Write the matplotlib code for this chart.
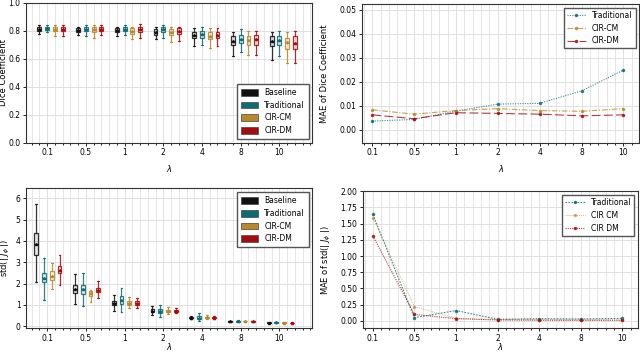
import numpy as np
import matplotlib.pyplot as plt
from matplotlib.patches import Patch
from matplotlib.ticker import MultipleLocator
from matplotlib.colors import to_rgba

lambdas = ['0.1', '0.5', '1', '2', '4', '8', '10']
methods = ['Baseline', 'Traditional', 'CIR-CM', 'CIR-DM']
colors = ['#111111', '#0d6b74', '#b8892c', '#a30d0d']

# box stats per lambda: [whisker low, q1, median, q3, whisker high]
dice_baseline = [[0.78, 0.80, 0.815, 0.83, 0.84], [0.77, 0.79, 0.805, 0.82, 0.83],
                 [0.76, 0.79, 0.805, 0.82, 0.83], [0.74, 0.77, 0.79, 0.81, 0.83],
                 [0.69, 0.75, 0.77, 0.79, 0.82], [0.62, 0.70, 0.73, 0.76, 0.79],
                 [0.59, 0.69, 0.73, 0.76, 0.79]]
dice_traditional = [[0.79, 0.805, 0.82, 0.83, 0.84], [0.76, 0.80, 0.815, 0.83, 0.84],
                    [0.77, 0.80, 0.815, 0.83, 0.84], [0.75, 0.79, 0.81, 0.83, 0.84],
                    [0.70, 0.75, 0.78, 0.80, 0.83], [0.65, 0.71, 0.74, 0.77, 0.81],
                    [0.62, 0.70, 0.735, 0.76, 0.80]]
dice_cir_cm = [[0.76, 0.80, 0.815, 0.83, 0.84], [0.75, 0.79, 0.81, 0.83, 0.84],
               [0.74, 0.78, 0.80, 0.82, 0.83], [0.72, 0.77, 0.79, 0.81, 0.83],
               [0.68, 0.74, 0.765, 0.79, 0.82], [0.63, 0.70, 0.735, 0.76, 0.80],
               [0.57, 0.67, 0.72, 0.75, 0.79]]
dice_cir_dm = [[0.76, 0.80, 0.815, 0.83, 0.84], [0.77, 0.80, 0.815, 0.83, 0.84],
               [0.75, 0.79, 0.81, 0.83, 0.85], [0.73, 0.78, 0.80, 0.82, 0.83],
               [0.69, 0.75, 0.77, 0.79, 0.82], [0.63, 0.70, 0.74, 0.77, 0.80],
               [0.57, 0.67, 0.71, 0.76, 0.80]]

std_baseline = [[2.05, 3.35, 3.85, 4.35, 5.75], [1.05, 1.55, 1.75, 1.95, 2.45],
                [0.70, 1.00, 1.10, 1.20, 1.45], [0.50, 0.65, 0.72, 0.80, 0.95],
                [0.33, 0.36, 0.40, 0.43, 0.47], [0.19, 0.21, 0.22, 0.23, 0.25],
                [0.14, 0.16, 0.17, 0.18, 0.19]]
std_traditional = [[1.25, 2.05, 2.25, 2.50, 3.20], [0.95, 1.50, 1.75, 1.95, 2.50],
                   [0.65, 1.05, 1.25, 1.40, 1.80], [0.45, 0.60, 0.70, 0.80, 1.00],
                   [0.25, 0.35, 0.40, 0.47, 0.60], [0.18, 0.21, 0.24, 0.26, 0.30],
                   [0.15, 0.17, 0.18, 0.19, 0.21]]
std_cir_cm = [[1.75, 2.15, 2.35, 2.60, 2.95], [1.15, 1.40, 1.55, 1.65, 1.70],
              [0.85, 1.00, 1.10, 1.20, 1.35], [0.55, 0.65, 0.72, 0.78, 0.90],
              [0.33, 0.37, 0.41, 0.45, 0.50], [0.20, 0.22, 0.23, 0.24, 0.26],
              [0.14, 0.16, 0.17, 0.18, 0.19]]
std_cir_dm = [[1.95, 2.50, 2.65, 2.80, 3.35], [1.30, 1.60, 1.70, 1.80, 2.10],
              [0.85, 1.00, 1.10, 1.20, 1.30], [0.60, 0.68, 0.73, 0.78, 0.85],
              [0.33, 0.36, 0.39, 0.42, 0.46], [0.19, 0.21, 0.22, 0.24, 0.26],
              [0.13, 0.15, 0.16, 0.17, 0.18]]

# MAE curves (Traditional, CIR-CM, CIR-DM)
mae_dice_traditional = [0.0036, 0.0043, 0.0078, 0.0107, 0.0110, 0.0162, 0.0249]
mae_dice_cir_cm = [0.0083, 0.0065, 0.0080, 0.0088, 0.0080, 0.0077, 0.0088]
mae_dice_cir_dm = [0.0062, 0.0046, 0.0071, 0.0068, 0.0065, 0.0058, 0.0062]

mae_std_traditional = [1.64, 0.05, 0.16, 0.025, 0.035, 0.03, 0.04]
mae_std_cir_cm = [1.59, 0.22, 0.04, 0.02, 0.02, 0.015, 0.015]
mae_std_cir_dm = [1.31, 0.10, 0.035, 0.015, 0.01, 0.01, 0.01]

plt.rcParams['font.family'] = 'DejaVu Sans'
plt.rcParams['font.size'] = 5.5

fig = plt.figure(figsize=(6.4, 3.52), dpi=100)
ax_tl = fig.add_axes([0.041, 0.594, 0.447, 0.398])
ax_tr = fig.add_axes([0.566, 0.594, 0.433, 0.395])
ax_bl = fig.add_axes([0.041, 0.068, 0.447, 0.397])
ax_br = fig.add_axes([0.567, 0.068, 0.430, 0.389])

x = np.arange(len(lambdas))


def style_axes(ax, xlab_y):
    ax.set_xticks(x)
    ax.set_xticklabels(lambdas)
    ax.xaxis.set_minor_locator(MultipleLocator(0.2))
    ax.grid(True, which='major', color='#e0e0e0', linewidth=0.7)
    ax.grid(True, which='minor', axis='x', color='#e0e0e0', linewidth=0.6)
    ax.set_axisbelow(True)
    ax.tick_params(which='both', length=2, width=0.6, labelsize=5.5, pad=2)
    ax.tick_params(which='minor', length=1.5)
    for s in ax.spines.values():
        s.set_linewidth(0.8)
        s.set_color('#333333')
    ax.set_xlabel(r'$\lambda$', fontsize=6)
    ax.xaxis.set_label_coords(0.5, xlab_y)


def draw_boxes(ax, groups, offsets):
    for k, (data, c) in enumerate(zip(groups, colors)):
        stats = []
        for row in data:
            lo, q1, med, q3, hi = row
            stats.append(dict(whislo=lo, q1=q1, med=med, q3=q3, whishi=hi, mean=med))
        ax.bxp(stats, positions=x + offsets[k], widths=0.1, patch_artist=True,
               showfliers=False, showmeans=True, manage_ticks=False,
               boxprops=dict(facecolor=to_rgba(c, 0.1), edgecolor=to_rgba(c, 0.85),
                             linewidth=0.9),
               whiskerprops=dict(color=to_rgba(c, 0.85), linewidth=0.9),
               capprops=dict(color=to_rgba(c, 0.85), linewidth=0.8),
               medianprops=dict(color=c, linewidth=0.8),
               meanprops=dict(marker='^', markersize=1.5, markerfacecolor=c,
                              markeredgecolor=c))
    handles = [Patch(facecolor=c, edgecolor='#444444', linewidth=0.5) for c in colors]
    return handles


# top left: Dice boxes
handles = draw_boxes(ax_tl, [dice_baseline, dice_traditional, dice_cir_cm, dice_cir_dm],
                     [-0.2, 0.0, 0.2, 0.4])
style_axes(ax_tl, -0.145)
ax_tl.set_xlim(-0.54, 6.85)
ax_tl.set_ylim(0, 1.0)
ax_tl.set_yticks(np.arange(0, 1.01, 0.2))
ax_tl.set_yticklabels(['%.1f' % v for v in np.arange(0, 1.01, 0.2)])
ax_tl.set_ylabel('Dice Coefficient', fontsize=6)
ax_tl.yaxis.set_label_coords(-0.063, 0.5)
ax_tl.legend(handles, methods, loc='lower right', fontsize=5.5, handlelength=2.2,
             handleheight=1.0, framealpha=1, edgecolor='#555555', fancybox=False,
             borderpad=0.5, labelspacing=0.5)

# bottom left: std boxes
handles = draw_boxes(ax_bl, [std_baseline, std_traditional, std_cir_cm, std_cir_dm],
                     [-0.28, -0.08, 0.12, 0.32])
style_axes(ax_bl, -0.095)
ax_bl.set_xlim(-0.54, 6.85)
ax_bl.set_ylim(-0.09, 6.47)
ax_bl.set_yticks(np.arange(0, 7, 1))
ax_bl.set_ylabel(r'std(| $J_\phi$ |)', fontsize=6)
ax_bl.yaxis.set_label_coords(-0.05, 0.5)
ax_bl.legend(handles, methods, loc='upper right', fontsize=5.5, handlelength=2.2,
             handleheight=1.0, framealpha=1, edgecolor='#555555', fancybox=False,
             borderpad=0.5, labelspacing=0.5)

# top right: MAE of Dice
ax_tr.plot(x, mae_dice_traditional, color=colors[1], linestyle=(0, (1, 1.2)),
           linewidth=0.8, alpha=0.8, marker='o', markersize=1.5, label='Traditional')
ax_tr.plot(x, mae_dice_cir_cm, color=colors[2], linestyle=(0, (5, 1.5, 1, 1.5)),
           linewidth=0.8, alpha=0.8, marker='o', markersize=1.5, label='CIR-CM')
ax_tr.plot(x, mae_dice_cir_dm, color=colors[3], linestyle=(0, (8, 3)),
           linewidth=0.8, alpha=0.8, marker='o', markersize=1.5, label='CIR-DM')
style_axes(ax_tr, -0.145)
ax_tr.set_xlim(-0.24, 6.38)
ax_tr.set_ylim(-0.0055, 0.0525)
ax_tr.set_yticks(np.arange(0, 0.051, 0.01))
ax_tr.set_yticklabels(['%.2f' % v for v in np.arange(0, 0.051, 0.01)])
ax_tr.set_ylabel('MAE of Dice Coefficient', fontsize=6)
ax_tr.yaxis.set_label_coords(-0.12, 0.5)
ax_tr.legend(loc='upper right', fontsize=5.5, framealpha=1, edgecolor='#555555',
             fancybox=False, handlelength=2.5)

# bottom right: MAE of std
ax_br.plot(x, mae_std_traditional, color=colors[1], linestyle=(0, (1.5, 1.2)),
           linewidth=0.8, alpha=0.8, marker='o', markersize=1.5, label='Traditional')
ax_br.plot(x, mae_std_cir_cm, color=colors[2], linestyle=(0, (1, 1)),
           linewidth=0.7, alpha=0.6, marker='o', markersize=1.5, label='CIR CM')
ax_br.plot(x, mae_std_cir_dm, color=colors[3], linestyle=(0, (1, 1)),
           linewidth=0.8, alpha=0.8, marker='o', markersize=1.5, label='CIR DM')
style_axes(ax_br, -0.095)
ax_br.set_xlim(-0.24, 6.38)
ax_br.set_ylim(-0.11, 2.0)
ax_br.set_yticks(np.arange(0, 2.01, 0.25))
ax_br.set_yticklabels(['%.2f' % v for v in np.arange(0, 2.01, 0.25)])
ax_br.set_ylabel(r'MAE of std(| $J_\phi$ |)', fontsize=6)
ax_br.yaxis.set_label_coords(-0.11, 0.5)
ax_br.legend(loc='upper right', fontsize=5.5, framealpha=1, edgecolor='#555555',
             fancybox=False, handlelength=2.5)

fig.savefig('out.png', dpi=100)
